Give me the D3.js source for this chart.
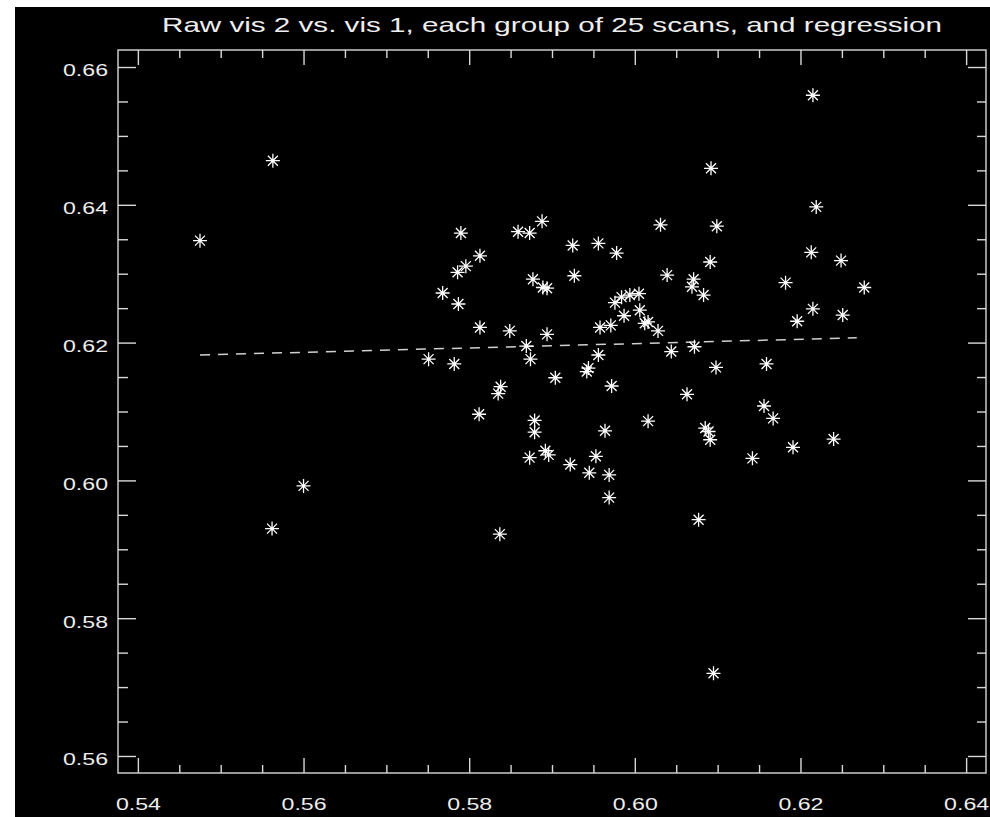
<!DOCTYPE html>
<html>
<head>
<meta charset="utf-8">
<script src="https://cdn.jsdelivr.net/npm/d3@7"></script>
<style>
  body { margin: 0; background: #ffffff; }
  svg { display: block; }
  .axis text { fill: #eeeeee; font-family: "Liberation Sans", Arial, sans-serif; font-size: 16px; }
  .axis line { stroke: #d8d8d8; stroke-width: 1.4; }
  .axis path { display: none; }
</style>
</head>
<body>
<div id="plot"></div>
<script>
// vis 1 (x) and vis 2 (y), one entry per group of 25 scans
var visOne = [0.5475, 0.5563, 0.5600, 0.5562, 0.5751, 0.5782, 0.5768, 0.5787, 0.5786, 0.5796,
              0.5790, 0.5813, 0.5813, 0.5812, 0.5849, 0.5838, 0.5835, 0.5837, 0.5859, 0.5873,
              0.5888, 0.5877, 0.5889, 0.5894, 0.5869, 0.5874, 0.5894, 0.5879, 0.5879, 0.5873,
              0.5892, 0.5896, 0.5904, 0.5922, 0.5925, 0.5927, 0.5956, 0.5978, 0.5976, 0.5984,
              0.5994, 0.6005, 0.6006, 0.5987, 0.6012, 0.6016, 0.5958, 0.5971, 0.6028, 0.5956,
              0.5944, 0.5942, 0.5972, 0.5964, 0.5953, 0.5945, 0.5969, 0.5969, 0.6016, 0.6031,
              0.6039, 0.6044, 0.6072, 0.6063, 0.6071, 0.6069, 0.6083, 0.6091, 0.6092, 0.6099,
              0.6098, 0.6085, 0.6089, 0.6091, 0.6077, 0.6095, 0.6142, 0.6156, 0.6159, 0.6167,
              0.6182, 0.6191, 0.6196, 0.6213, 0.6215, 0.6215, 0.6219, 0.6240, 0.6249, 0.6251,
              0.6277];
var visTwo = [0.6348, 0.6464, 0.5992, 0.5930, 0.6176, 0.6169, 0.6272, 0.6256, 0.6302, 0.6311,
              0.6359, 0.6326, 0.6222, 0.6096, 0.6217, 0.6136, 0.6126, 0.5922, 0.6361, 0.6359,
              0.6376, 0.6292, 0.6280, 0.6279, 0.6195, 0.6176, 0.6212, 0.6087, 0.6070, 0.6033,
              0.6043, 0.6037, 0.6149, 0.6023, 0.6341, 0.6297, 0.6344, 0.6330, 0.6258, 0.6266,
              0.6269, 0.6271, 0.6247, 0.6239, 0.6228, 0.6230, 0.6222, 0.6225, 0.6217, 0.6182,
              0.6163, 0.6158, 0.6137, 0.6072, 0.6035, 0.6011, 0.6008, 0.5975, 0.6086, 0.6371,
              0.6298, 0.6187, 0.6194, 0.6125, 0.6292, 0.6281, 0.6269, 0.6317, 0.6453, 0.6369,
              0.6164, 0.6076, 0.6071, 0.6059, 0.5943, 0.5720, 0.6032, 0.6108, 0.6169, 0.6090,
              0.6287, 0.6048, 0.6231, 0.6331, 0.6249, 0.6559, 0.6397, 0.6060, 0.6319, 0.6240,
              0.6280];

// regression line end points
var regX = [0.5475, 0.6268];
var regY = [0.6182, 0.6207];

var xTicks = [0.54, 0.56, 0.58, 0.60, 0.62, 0.64];
var xTickLabels = ["0.54", "0.56", "0.58", "0.60", "0.62", "0.64"];
var yTicks = [0.56, 0.58, 0.60, 0.62, 0.64, 0.66];
var yTickLabels = ["0.56", "0.58", "0.60", "0.62", "0.64", "0.66"];

var titleText = "Raw vis 2 vs. vis 1, each group of 25 scans, and regression";

var W = 990, H = 817;
var margin = {top: 50, right: 4, bottom: 44, left: 118}
  , width = W - margin.left - margin.right
  , height = H - margin.top - margin.bottom;

var x = d3.scaleLinear()
          .domain([0.5376, 0.6424])
          .range([0, width]);

var y = d3.scaleLinear()
          .domain([0.55753, 0.66247])
          .range([height, 0]);

var xMinor = d3.range(0.545, 0.6401, 0.005).filter(function(d) { return Math.abs(d * 50 - Math.round(d * 50)) > 1e-6; });
var yMinor = d3.range(0.565, 0.6601, 0.005).filter(function(d) { return Math.abs(d * 50 - Math.round(d * 50)) > 1e-6; });

var chart = d3.select('#plot')
    .append('svg')
    .attr('width', W)
    .attr('height', H);

// black plot window, white strips left and top
chart.append('rect')
    .attr('x', 15).attr('y', 7)
    .attr('width', W - 15).attr('height', H - 7)
    .attr('fill', '#000000');

chart.append('text')
    .attr('x', margin.left + width / 2)
    .attr('y', 32)
    .attr('text-anchor', 'middle')
    .attr('textLength', 780)
    .attr('lengthAdjust', 'spacingAndGlyphs')
    .style('font-family', '"Liberation Sans", Arial, sans-serif')
    .style('font-size', '21px')
    .style('fill', '#eeeeee')
    .text(titleText);

var main = chart.append('g')
    .attr('transform', 'translate(' + margin.left + ',' + margin.top + ')');

// frame
main.append('rect')
    .attr('width', width)
    .attr('height', height)
    .attr('fill', 'none')
    .attr('stroke', '#d8d8d8')
    .attr('stroke-width', 1.4);

function labelFit(sel) {
    sel.selectAll('text')
        .attr('textLength', 45)
        .attr('lengthAdjust', 'spacingAndGlyphs');
}

// bottom axis
main.append('g')
    .attr('class', 'axis')
    .attr('transform', 'translate(0,' + height + ')')
    .call(d3.axisBottom(x).tickValues(xTicks).tickSize(-15).tickSizeOuter(0).tickPadding(26)
          .tickFormat(function(d, i) { return xTickLabels[i]; }))
    .call(labelFit);
main.append('g')
    .attr('class', 'axis')
    .attr('transform', 'translate(0,' + height + ')')
    .call(d3.axisBottom(x).tickValues(xMinor).tickSize(-8).tickSizeOuter(0).tickFormat(''));

// top axis
main.append('g')
    .attr('class', 'axis')
    .call(d3.axisTop(x).tickValues(xTicks).tickSize(-15).tickSizeOuter(0).tickFormat(''));
main.append('g')
    .attr('class', 'axis')
    .call(d3.axisTop(x).tickValues(xMinor).tickSize(-8).tickSizeOuter(0).tickFormat(''));

// left axis
main.append('g')
    .attr('class', 'axis')
    .call(d3.axisLeft(y).tickValues(yTicks).tickSize(-18).tickSizeOuter(0).tickPadding(10)
          .tickFormat(function(d, i) { return yTickLabels[i]; }))
    .call(labelFit)
    .selectAll('text').attr('dy', '0.55em');
main.append('g')
    .attr('class', 'axis')
    .call(d3.axisLeft(y).tickValues(yMinor).tickSize(-10).tickSizeOuter(0).tickFormat(''));

// right axis
main.append('g')
    .attr('class', 'axis')
    .attr('transform', 'translate(' + width + ',0)')
    .call(d3.axisRight(y).tickValues(yTicks).tickSize(-18).tickSizeOuter(0).tickFormat(''));
main.append('g')
    .attr('class', 'axis')
    .attr('transform', 'translate(' + width + ',0)')
    .call(d3.axisRight(y).tickValues(yMinor).tickSize(-9).tickSizeOuter(0).tickFormat(''));

// regression line
var line = d3.line()
    .x(function (d) { return x(d[0]); })
    .y(function (d) { return y(d[1]); });

main.append('path')
    .datum(regX.map(function(d, i) { return [d, regY[i]]; }))
    .attr('d', line)
    .attr('fill', 'none')
    .attr('stroke', '#d0d0d0')
    .attr('stroke-width', 1.5)
    .attr('stroke-dasharray', '10,8');

// asterisk markers
var data = visOne.map(function(d, i) { return {v1: d, v2: visTwo[i]}; });
main.selectAll('.star')
    .data(data)
  .enter().append('path')
    .attr('class', 'star')
    .attr('transform', function(d) { return 'translate(' + x(d.v1) + ',' + y(d.v2) + ')'; })
    .attr('d', 'M-7,0H7M0,-7V7M-5,-5L5,5M-5,5L5,-5')
    .attr('stroke', '#ffffff')
    .attr('stroke-width', 1.3)
    .attr('fill', 'none');
</script>
</body>
</html>
